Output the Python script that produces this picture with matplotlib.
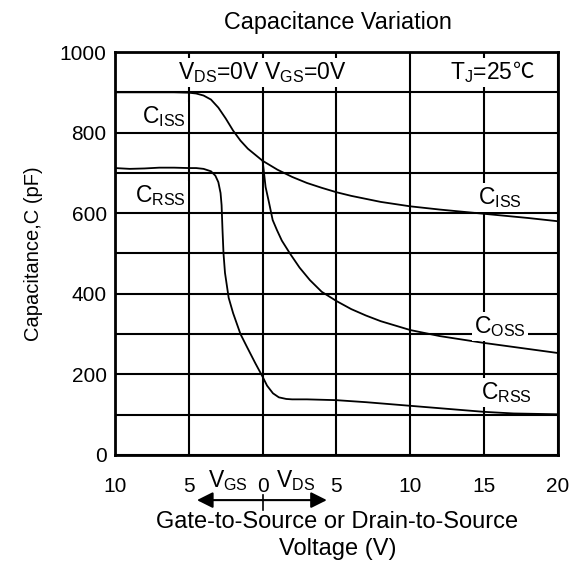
import matplotlib
matplotlib.use("Agg")
import matplotlib.pyplot as plt
import numpy as np

plt.rcParams["font.family"] = ["Liberation Sans", "DejaVu Sans"]
plt.rcParams["mathtext.fontset"] = "custom"
plt.rcParams["mathtext.rm"] = "Liberation Sans"
plt.rcParams["mathtext.it"] = "Liberation Sans:italic"

# voltage axis: negative side is V_GS, positive side is V_DS
ciss_v = [-10, -8, -6, -5, -4.5, -4, -3.5, -3, -2.5, -2, -1.5, -1, -0.5, 0,
          1, 2, 3, 4, 5, 6, 8, 10, 12, 14, 16, 18, 20]
ciss_pf = [900, 900, 900, 899, 897, 892, 882, 862, 835, 805, 780, 760, 745, 730,
           708, 690, 675, 663, 652, 643, 628, 617, 609, 602, 595, 588, 580]

coss_v = [0, 0.2, 0.44, 0.68, 0.97, 1.3, 1.85, 2.5, 3.2, 4, 5, 6, 7, 8,
          10, 12, 15, 17, 20]
coss_pf = [730, 665, 625, 583, 558, 532, 500, 465, 434, 405, 382, 362, 346, 332,
           310, 295, 278, 268, 253]

crss_v = [-10, -9, -8, -7, -6, -5, -4.5, -4, -3.5, -3.2, -3.0, -2.85, -2.78,
          -2.72, -2.65, -2.55, -2.3, -2.0, -1.5, -1.06, -0.5, 0, 0.3, 0.7, 1.1,
          1.6, 2, 3, 4, 5, 7, 10, 12, 15, 17, 20]
crss_pf = [712, 710, 711, 713, 713, 712, 712, 710, 704, 693, 677, 650, 620,
           560, 500, 452, 390, 352, 300, 268, 228, 194, 172, 153, 143,
           139, 138, 138, 137, 136, 131, 122, 116, 107, 103, 101]

x_ticks = [-10, -5, 0, 5, 10, 15, 20]
x_labels = ["10", "5", "0", "5", "10", "15", "20"]
y_ticks = [0, 200, 400, 600, 800, 1000]

fs = 16.5

fig = plt.figure(figsize=(5.79, 5.61), dpi=100)
ax = fig.add_axes([0.1986, 0.189, 0.765, 0.7183])

for xs, ys in [(ciss_v, ciss_pf), (coss_v, coss_pf), (crss_v, crss_pf)]:
    ax.plot(xs, ys, color="black", lw=1.3, zorder=2)

ax.set_xlim(-10, 20)
ax.set_ylim(0, 1000)
ax.set_xticks(x_ticks)
ax.set_xticklabels(x_labels)
ax.set_yticks(y_ticks)
ax.set_yticks(np.arange(100, 1000, 200), minor=True)
ax.tick_params(axis="both", which="both", length=0, labelsize=15)
ax.tick_params(axis="x", pad=16)
ax.tick_params(axis="y", pad=6)
ax.set_axisbelow(True)
ax.grid(True, which="both", color="black", lw=1.5)
for sp in ax.spines.values():
    sp.set_linewidth(2)

box = dict(facecolor="white", edgecolor="none", pad=1.5)
ax.text(0, 950, "V$_{\\rm DS}$=0V V$_{\\rm GS}$=0V", ha="center", va="center",
        fontsize=fs, bbox=box, zorder=3)
ax.text(16.96, 950, "T$_{\\rm J}$=25", ha="right", va="center", fontsize=fs,
        bbox=box, zorder=3)
ax.text(16.96, 950, "℃", ha="left", va="center", fontsize=fs - 1,
        family=["Noto Sans CJK SC", "DejaVu Sans"], bbox=box, zorder=3)
ax.text(-6.7, 840, "C$_{\\rm ISS}$", ha="center", va="center", fontsize=fs, bbox=box, zorder=3)
ax.text(-6.9, 643, "C$_{\\rm RSS}$", ha="center", va="center", fontsize=fs, bbox=box, zorder=3)
ax.text(16.1, 640, "C$_{\\rm ISS}$", ha="center", va="center", fontsize=fs, bbox=box, zorder=3)
ax.text(16.1, 318, "C$_{\\rm OSS}$", ha="center", va="center", fontsize=fs, bbox=box, zorder=3)
ax.text(16.5, 154, "C$_{\\rm RSS}$", ha="center", va="center", fontsize=fs, bbox=box, zorder=3)

# direction arrow below the axis
ax.annotate("", xy=(-4.45, -112), xytext=(4.35, -112),
            arrowprops=dict(arrowstyle="<|-|>", color="black", lw=1.5,
                            mutation_scale=24, shrinkA=0, shrinkB=0),
            annotation_clip=False)
ax.plot([0, 0], [-100, -136], color="black", lw=1.2, clip_on=False)
ax.text(-2.35, -64, "V$_{\\rm GS}$", ha="center", va="center", fontsize=fs)
ax.text(2.25, -64, "V$_{\\rm DS}$", ha="center", va="center", fontsize=fs)

fig.text(0.583, 0.960, "Capacitance Variation", ha="center", va="center", fontsize=16.8)
fig.text(0.057, 0.548, "Capacitance,C (pF)", ha="center", va="center",
         rotation=90, fontsize=14.5)
fig.text(0.583, 0.069, "Gate-to-Source or Drain-to-Source", ha="center",
         va="center", fontsize=17)
fig.text(0.583, 0.021, "Voltage (V)", ha="center", va="center", fontsize=17)

fig.savefig("out.png", dpi=100)
